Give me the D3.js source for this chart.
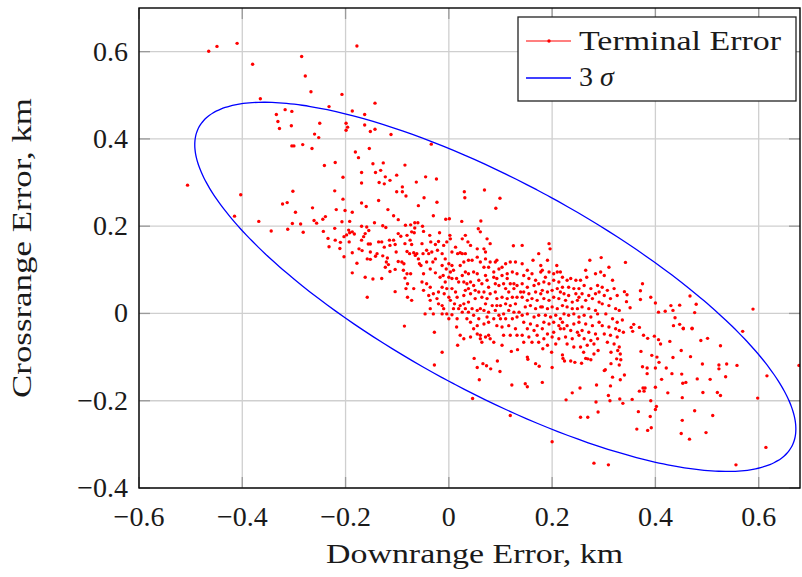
<!DOCTYPE html>
<html>
<head>
<meta charset="utf-8">
<script src="https://d3js.org/d3.v7.min.js"></script>
<style>
  body { margin: 0; background: #fff; }
  text { font-family: "Liberation Serif", "Times New Roman", serif; fill: #1a1a1a; }
</style>
</head>
<body>
<script>
// tick values and their labels
var xTicks = [-0.6, -0.4, -0.2, 0, 0.2, 0.4, 0.6];
var xTickLabels = ["\u22120.6", "\u22120.4", "\u22120.2", "0", "0.2", "0.4", "0.6"];
var yTicks = [-0.4, -0.2, 0, 0.2, 0.4, 0.6];
var yTickLabels = ["\u22120.4", "\u22120.2", "0", "0.2", "0.4", "0.6"];

// 3 sigma ellipse: mean, std devs, correlation
var errMean = [0.090, 0.061];
var errSigma = [0.194, 0.141];
var errRho = -0.77;
var nSigma = 3;

// terminal error samples [downrange, crossrange] km
var terminalError = [
// upper left
[-0.465,0.601],[-0.449,0.612],[-0.410,0.619],[-0.380,0.571],[-0.285,0.589],[-0.278,0.544],[-0.267,0.508],
[-0.207,0.502],[-0.365,0.492],[-0.232,0.474],[-0.187,0.464],[-0.178,0.613],[-0.317,0.467],[-0.304,0.463],
[-0.334,0.456],[-0.331,0.440],[-0.328,0.424],[-0.305,0.430],[-0.250,0.436],[-0.199,0.436],[-0.196,0.427],
[-0.199,0.420],[-0.260,0.411],[-0.252,0.403],[-0.304,0.384],[-0.300,0.384],[-0.283,0.387],[-0.265,0.378],
[-0.181,0.370],[-0.220,0.346],[-0.241,0.339],
[-0.143,0.482],[-0.163,0.456],[-0.163,0.432],[-0.152,0.417],[-0.143,0.422],[-0.112,0.410],[-0.034,0.388],
[-0.154,0.378],[-0.175,0.357],[-0.147,0.343],[-0.127,0.345],[-0.085,0.340],
[-0.506,0.294],[-0.403,0.272],[-0.415,0.223],[-0.368,0.211],[-0.344,0.189],[-0.302,0.280],[-0.322,0.251],
[-0.313,0.254],[-0.297,0.232],[-0.303,0.206],[-0.287,0.205],[-0.312,0.193],[-0.282,0.186],[-0.264,0.242],
[-0.261,0.213],[-0.256,0.207],[-0.244,0.216],[-0.239,0.222],[-0.243,0.188],[-0.234,0.172],[-0.232,0.153],
[-0.221,0.281],[-0.205,0.312],[-0.205,0.262],[-0.218,0.238],[-0.201,0.236],[-0.187,0.232],[-0.207,0.210],
[-0.192,0.211],[-0.221,0.195],[-0.220,0.168],[-0.211,0.149],[-0.210,0.163],[-0.203,0.130],[-0.203,0.176],
[-0.198,0.180],[-0.194,0.191],[-0.192,0.185],[-0.187,0.187],[-0.183,0.182],[-0.193,0.164],[-0.187,0.139],
[-0.187,0.093],[-0.178,0.115],
[-0.169,0.323],[-0.142,0.323],[-0.132,0.328],[-0.123,0.313],[-0.114,0.305],[-0.101,0.317],[-0.135,0.300],
[-0.125,0.297],[-0.063,0.301],[-0.045,0.313],[-0.024,0.308],[-0.169,0.299],[-0.101,0.279],[-0.090,0.290],
[-0.090,0.279],[-0.083,0.269],[0.030,0.279],[0.031,0.265],[0.069,0.283],[0.099,0.264],[-0.169,0.253],
[-0.160,0.245],[-0.136,0.259],[-0.059,0.247],[-0.048,0.265],[-0.023,0.255],[-0.118,0.238],[0.091,0.241],
[-0.107,0.224],[-0.098,0.215],[-0.030,0.224],[-0.006,0.216],[0.001,0.217],[0.025,0.211],[0.062,0.212],
[-0.169,0.200],[-0.144,0.208],[-0.159,0.198],[-0.128,0.201],[-0.122,0.197],[-0.155,0.190],[-0.162,0.183],
[-0.084,0.202],[-0.074,0.203],[-0.066,0.208],[-0.060,0.208],[-0.066,0.196],[-0.051,0.200],[0.057,0.194],
[-0.169,0.168],[-0.165,0.176],[-0.156,0.159],[-0.152,0.159],[-0.136,0.164],
[-0.174,0.148],[-0.168,0.144],[-0.152,0.141],[-0.139,0.137],[-0.158,0.125],[-0.152,0.124],[-0.142,0.131],
[-0.162,0.083],[-0.147,0.079],[-0.158,0.037],
// dense core
[-0.130,0.164],[-0.125,0.152],[-0.115,0.168],[-0.107,0.168],[-0.104,0.158],[-0.114,0.156],[-0.119,0.127],
[-0.128,0.132],[-0.121,0.118],[-0.117,0.112],[-0.123,0.106],[-0.114,0.096],[-0.104,0.101],[-0.130,0.080],
[-0.104,0.050],[-0.098,0.183],[-0.102,0.141],[-0.098,0.119],
[-0.093,0.177],[-0.081,0.179],[-0.072,0.187],[-0.067,0.185],[-0.085,0.160],[-0.075,0.168],[-0.072,0.158],
[-0.081,0.142],[-0.076,0.137],[-0.068,0.139],[-0.065,0.133],[-0.091,0.118],[-0.087,0.114],[-0.088,0.099],
[-0.081,0.091],[-0.074,0.091],[-0.085,0.081],[-0.080,0.068],[-0.083,0.057],[-0.068,0.057],[-0.080,0.037],
[-0.072,0.030],[-0.059,0.125],[-0.057,0.114],[-0.062,0.137],[-0.086,-0.029],
[-0.049,0.188],[-0.037,0.179],[-0.035,0.164],[-0.052,0.160],[-0.043,0.145],[-0.050,0.137],[-0.039,0.137],
[-0.033,0.141],[-0.026,0.158],[-0.020,0.165],[-0.031,0.118],[-0.043,0.118],[-0.054,0.110],[-0.036,0.102],
[-0.026,0.093],[-0.049,0.091],[-0.052,0.072],[-0.043,0.068],[-0.036,0.060],[-0.049,0.053],[-0.039,0.041],
[-0.030,0.045],[-0.020,0.049],[-0.036,0.030],[-0.023,0.034],[-0.020,0.022],[-0.046,-0.001],[-0.036,0.011],
[-0.030,-0.001],[-0.018,0.185],[-0.022,0.145],[-0.026,0.125],[-0.013,0.110],[-0.028,-0.043],
[-0.013,0.137],[-0.007,0.125],[-0.010,0.156],[-0.004,0.164],[0.003,0.171],[0.002,0.179],[0.013,0.152],
[0.006,0.141],[0.017,0.137],[0.022,0.139],[0.000,0.114],[0.006,0.110],[0.009,0.099],[0.003,0.095],
[-0.005,0.102],[-0.011,0.087],[0.000,0.083],[0.006,0.080],[0.015,0.080],[0.019,0.072],[-0.007,0.072],
[-0.013,0.060],[-0.004,0.057],[0.006,0.057],[0.013,0.049],[-0.009,0.045],[0.000,0.037],[0.016,0.037],
[0.003,0.030],[0.011,0.022],[0.022,0.018],[-0.010,0.011],[-0.004,-0.001],[0.006,-0.003],[0.016,-0.012],
[0.000,-0.012],[0.009,0.011],[0.019,0.011],[0.015,-0.031],[0.022,-0.050],[0.017,-0.073],[0.022,0.110],
[-0.017,0.083],[-0.013,0.018],[-0.013,-0.001],
[0.026,0.171],[0.037,0.164],[0.042,0.156],[0.032,0.137],[0.026,0.137],[0.038,0.122],[0.045,0.122],
[0.055,0.129],[0.061,0.118],[0.029,0.118],[0.032,0.095],[0.038,0.091],[0.026,0.087],[0.029,0.072],
[0.035,0.068],[0.042,0.072],[0.048,0.095],[0.055,0.091],[0.058,0.076],[0.048,0.064],[0.038,0.057],
[0.032,0.053],[0.029,0.041],[0.042,0.045],[0.051,0.053],[0.058,0.049],[0.051,0.034],[0.038,0.026],
[0.029,0.022],[0.032,0.011],[0.045,0.011],[0.055,0.007],[0.061,0.011],[0.048,-0.004],[0.038,0.003],
[0.026,0.003],[0.035,-0.012],[0.042,-0.020],[0.058,-0.012],[0.048,-0.035],[0.055,-0.028],[0.029,-0.058],
[0.042,-0.054],[0.061,-0.050],[0.055,-0.047],[0.032,0.179],[0.055,0.148],[0.061,0.187],
[0.068,0.148],[0.071,0.141],[0.080,0.160],[0.071,0.125],[0.080,0.118],[0.090,0.118],[0.068,0.106],
[0.077,0.106],[0.087,0.095],[0.097,0.102],[0.071,0.087],[0.074,0.076],[0.087,0.083],[0.093,0.080],
[0.064,0.068],[0.077,0.060],[0.090,0.068],[0.097,0.064],[0.068,0.049],[0.080,0.045],[0.090,0.049],
[0.064,0.037],[0.074,0.034],[0.093,0.034],[0.071,0.022],[0.084,0.018],[0.093,0.018],[0.068,0.007],
[0.077,0.003],[0.090,0.007],[0.097,-0.004],[0.074,-0.008],[0.087,-0.012],[0.068,-0.024],[0.093,-0.028],
[0.077,-0.020],[0.061,-0.058],[0.071,-0.054],[0.077,-0.050],[0.080,-0.058],[0.087,-0.066],[0.064,-0.066],
[0.093,0.122],[0.074,0.171],
[0.103,0.106],[0.110,0.114],[0.119,0.118],[0.129,0.118],[0.123,0.095],[0.132,0.091],[0.113,0.091],
[0.103,0.087],[0.106,0.068],[0.119,0.068],[0.126,0.068],[0.132,0.064],[0.110,0.057],[0.116,0.049],
[0.126,0.057],[0.103,0.037],[0.113,0.034],[0.123,0.037],[0.132,0.037],[0.139,0.049],[0.110,0.022],
[0.119,0.018],[0.129,0.022],[0.116,0.007],[0.126,0.003],[0.136,0.003],[0.106,-0.001],[0.100,-0.012],
[0.110,-0.012],[0.123,-0.012],[0.132,-0.008],[0.103,-0.031],[0.116,-0.028],[0.129,-0.035],[0.106,-0.050],
[0.119,-0.050],[0.132,-0.050],[0.103,-0.073],[0.125,0.155],[0.142,0.156],[0.113,0.080],[0.100,0.018],
[0.142,0.114],[0.152,0.099],[0.161,0.091],[0.145,0.087],[0.155,0.080],[0.168,0.076],[0.142,0.068],
[0.152,0.060],[0.165,0.064],[0.174,0.068],[0.145,0.049],[0.155,0.045],[0.168,0.049],[0.178,0.045],
[0.142,0.037],[0.152,0.030],[0.161,0.034],[0.171,0.030],[0.148,0.015],[0.158,0.018],[0.168,0.011],
[0.178,0.015],[0.142,-0.004],[0.152,-0.001],[0.165,-0.008],[0.174,-0.004],[0.145,-0.020],[0.158,-0.024],
[0.171,-0.028],[0.152,-0.035],[0.165,-0.039],[0.142,-0.050],[0.155,-0.054],[0.171,-0.050],[0.145,-0.066],
[0.161,-0.066],[0.174,-0.066],[0.163,0.122],[0.174,0.137],[0.178,0.110],[0.178,0.095],
[0.181,0.099],[0.187,0.083],[0.194,0.095],[0.203,0.091],[0.210,0.095],[0.216,0.095],[0.184,0.072],
[0.194,0.068],[0.203,0.076],[0.213,0.072],[0.181,0.053],[0.191,0.049],[0.200,0.053],[0.210,0.057],
[0.216,0.049],[0.184,0.034],[0.194,0.030],[0.203,0.037],[0.213,0.034],[0.181,0.015],[0.191,0.011],
[0.200,0.015],[0.210,0.011],[0.187,-0.004],[0.197,-0.008],[0.207,-0.004],[0.216,-0.012],[0.184,-0.020],
[0.194,-0.024],[0.203,-0.020],[0.213,-0.028],[0.181,-0.035],[0.191,-0.047],[0.203,-0.043],[0.216,-0.035],
[0.184,-0.058],[0.200,-0.054],[0.213,-0.058],[0.191,-0.073],[0.207,-0.070],[0.194,0.160],[0.196,0.148],
[0.191,0.122],[0.209,0.110],[0.220,0.083],
[0.220,0.060],[0.229,0.076],[0.236,0.080],[0.246,0.076],[0.255,0.076],[0.232,0.060],[0.242,0.057],
[0.252,0.057],[0.223,0.045],[0.232,0.041],[0.246,0.045],[0.252,0.037],[0.226,0.030],[0.239,0.026],
[0.249,0.030],[0.220,0.018],[0.229,0.015],[0.239,0.011],[0.249,0.011],[0.223,-0.001],[0.232,-0.004],
[0.242,-0.001],[0.252,-0.008],[0.220,-0.020],[0.229,-0.028],[0.242,-0.024],[0.252,-0.020],[0.223,-0.035],
[0.236,-0.039],[0.249,-0.043],[0.226,-0.054],[0.239,-0.058],[0.252,-0.050],[0.229,-0.070],[0.242,-0.077],
[0.255,-0.077],
[0.265,0.099],[0.273,0.122],[0.267,0.083],[0.284,0.091],[0.262,0.064],[0.275,0.057],[0.288,0.064],
[0.258,0.045],[0.271,0.041],[0.284,0.045],[0.265,0.030],[0.278,0.034],[0.291,0.026],[0.258,0.015],
[0.271,0.011],[0.284,0.007],[0.262,-0.004],[0.275,-0.008],[0.288,-0.001],[0.265,-0.024],[0.278,-0.028],
[0.291,-0.020],[0.258,-0.039],[0.271,-0.043],[0.284,-0.047],[0.262,-0.058],[0.275,-0.062],[0.288,-0.058],
[0.268,-0.073],[0.281,-0.070],[0.295,0.128],[0.291,0.049],[0.294,0.095],
[0.310,0.106],[0.301,0.087],[0.317,0.076],[0.297,0.060],[0.307,0.053],[0.320,0.057],[0.301,0.041],
[0.313,0.034],[0.326,0.041],[0.297,0.022],[0.310,0.018],[0.323,0.011],[0.330,0.007],[0.304,-0.001],
[0.317,-0.012],[0.326,-0.020],[0.297,-0.028],[0.310,-0.031],[0.323,-0.035],[0.330,-0.039],[0.301,-0.047],
[0.313,-0.050],[0.326,-0.054],[0.307,-0.066],[0.320,-0.070],[0.330,-0.077],
// right of core
[0.342,0.117],[0.340,0.050],[0.345,0.043],[0.344,0.027],[0.351,0.013],[0.336,-0.015],[0.353,-0.032],
[0.358,-0.025],[0.369,-0.032],[0.375,0.068],[0.371,0.052],[0.371,0.032],[0.391,0.037],[0.400,0.024],
[0.406,0.003],[0.419,0.005],[0.430,0.018],[0.434,0.007],[0.447,0.019],[0.438,-0.010],[0.435,-0.028],
[0.447,-0.025],[0.454,-0.034],[0.467,0.040],[0.479,0.021],[0.476,0.002],[0.471,-0.034],[0.589,0.010],
// below core
[-0.013,-0.089],[-0.028,-0.118],[0.182,-0.081],[0.199,-0.089],[0.220,-0.095],[0.221,-0.103],[0.224,-0.109],
[0.236,-0.109],[0.244,-0.112],[0.121,-0.087],[0.133,-0.083],[0.152,-0.100],[0.153,-0.105],[0.168,-0.115],
[0.175,-0.121],[0.200,-0.124],[0.049,-0.103],[0.066,-0.115],[0.073,-0.120],[0.055,-0.124],[0.081,-0.127],
[0.094,-0.109],[0.099,-0.133],[0.059,-0.152],[0.122,-0.164],[0.148,-0.161],[0.152,-0.168],[0.181,-0.158],
[0.239,-0.182],[0.227,-0.198],[0.046,-0.195],[0.119,-0.234],[0.200,-0.294],
// lower right
[0.338,-0.043],[0.356,-0.041],[0.377,-0.050],[0.385,-0.057],[0.398,-0.052],[0.406,-0.060],
[0.410,-0.070],[0.428,-0.064],[0.454,-0.035],[0.471,-0.035],[0.488,-0.062],[0.501,-0.057],[0.526,-0.074],
[0.569,-0.041],[0.261,-0.089],[0.281,-0.093],[0.289,-0.085],[0.265,-0.103],[0.275,-0.106],[0.257,-0.114],
[0.269,-0.104],[0.314,-0.089],[0.327,-0.085],[0.332,-0.093],[0.325,-0.104],[0.333,-0.106],[0.314,-0.115],
[0.330,-0.118],[0.372,-0.087],[0.393,-0.096],[0.403,-0.100],[0.407,-0.112],[0.375,-0.122],[0.384,-0.125],
[0.400,-0.125],[0.421,-0.125],[0.434,-0.101],[0.450,-0.085],[0.468,-0.099],[0.491,-0.116],[0.523,-0.118],
[0.523,-0.127],[0.538,-0.116],[0.558,-0.119],[0.678,-0.119],[0.301,-0.131],[0.303,-0.129],[0.340,-0.141],
[0.317,-0.146],[0.332,-0.152],[0.313,-0.166],[0.286,-0.164],[0.254,-0.171],[0.384,-0.138],[0.412,-0.151],
[0.432,-0.138],[0.451,-0.139],[0.481,-0.150],[0.506,-0.151],[0.536,-0.145],[0.616,-0.143],[0.453,-0.160],
[0.459,-0.158],[0.400,-0.169],[0.369,-0.178],[0.376,-0.171],[0.380,-0.171],[0.378,-0.178],[0.424,-0.182],
[0.492,-0.181],[0.520,-0.181],[0.526,-0.188],[0.452,-0.193],[0.355,-0.197],[0.331,-0.196],[0.309,-0.188],
[0.312,-0.200],[0.337,-0.206],[0.285,-0.203],[0.391,-0.200],[0.402,-0.213],[0.400,-0.220],[0.367,-0.225],
[0.289,-0.226],[0.255,-0.238],[0.269,-0.238],[0.390,-0.236],[0.452,-0.245],[0.476,-0.223],[0.511,-0.234],
[0.598,-0.194],[0.364,-0.265],[0.385,-0.268],[0.392,-0.262],[0.450,-0.275],[0.466,-0.288],[0.498,-0.273],
[0.614,-0.307],[0.281,-0.343],[0.309,-0.347],[0.556,-0.347]
];

var W = 802, H = 577;
var margin = {left: 139, right: 2, top: 8, bottom: 90};

var svg = d3.select("body").append("svg")
    .attr("width", W).attr("height", H);

var x = d3.scaleLinear().domain([-0.6, 0.68]).range([margin.left, W - margin.right]);
var y = d3.scaleLinear().domain([-0.4, 0.7]).range([H - margin.bottom + 1, margin.top]);

var x0 = x.range()[0], x1 = x.range()[1], y0 = y.range()[0], y1 = y.range()[1];

// grid
var grid = svg.append("g");
grid.selectAll(".gx").data(xTicks).enter().append("line")
    .attr("x1", d => x(d)).attr("x2", d => x(d))
    .attr("y1", y0).attr("y2", y1)
    .attr("stroke", "#cfcfcf").attr("stroke-width", 1.3);
grid.selectAll(".gy").data(yTicks).enter().append("line")
    .attr("y1", d => y(d)).attr("y2", d => y(d))
    .attr("x1", x0).attr("x2", x1)
    .attr("stroke", "#cfcfcf").attr("stroke-width", 1.3);

// inner ticks on all four sides
var tl = 11;
var ticks = svg.append("g").attr("stroke", "#9a9a9a").attr("stroke-width", 1.3);
xTicks.forEach(function(d) {
  ticks.append("line").attr("x1", x(d)).attr("x2", x(d)).attr("y1", y0).attr("y2", y0 - tl);
  ticks.append("line").attr("x1", x(d)).attr("x2", x(d)).attr("y1", y1).attr("y2", y1 + tl);
});
yTicks.forEach(function(d) {
  ticks.append("line").attr("y1", y(d)).attr("y2", y(d)).attr("x1", x0).attr("x2", x0 + tl);
  ticks.append("line").attr("y1", y(d)).attr("y2", y(d)).attr("x1", x1).attr("x2", x1 - tl);
});

// clip for data
svg.append("clipPath").attr("id", "plotclip").append("rect")
    .attr("x", x0).attr("y", y1).attr("width", x1 - x0).attr("height", y0 - y1);
var plot = svg.append("g").attr("clip-path", "url(#plotclip)");

// scatter
plot.selectAll("circle").data(terminalError).enter().append("circle")
    .attr("cx", d => x(d[0])).attr("cy", d => y(d[1]))
    .attr("r", 1.7).attr("fill", "#ff0000");

// 3 sigma ellipse
var ell = d3.range(0, 361, 2).map(function(a) {
  var t = a * Math.PI / 180;
  var dx = nSigma * errSigma[0] * Math.cos(t);
  var dy = nSigma * errSigma[1] * (errRho * Math.cos(t) + Math.sqrt(1 - errRho * errRho) * Math.sin(t));
  return [errMean[0] + dx, errMean[1] + dy];
});
plot.append("path")
    .attr("d", d3.line().x(d => x(d[0])).y(d => y(d[1])).curve(d3.curveCardinalClosed)(ell))
    .attr("fill", "none").attr("stroke", "#0000ff").attr("stroke-width", 1.3);

// frame
svg.append("rect").attr("x", x0).attr("y", y1).attr("width", x1 - x0).attr("height", y0 - y1)
    .attr("fill", "none").attr("stroke", "#000").attr("stroke-width", 1.4);

// tick labels
var fs = 28;
svg.selectAll(".xl").data(xTicks).enter().append("text")
    .attr("x", d => x(d)).attr("y", y0 + 38)
    .attr("text-anchor", "middle").attr("font-size", fs)
    .text((d, i) => xTickLabels[i]);
svg.selectAll(".yl").data(yTicks).enter().append("text")
    .attr("x", x0 - 11).attr("y", d => y(d) + 9)
    .attr("text-anchor", "end").attr("font-size", fs)
    .text((d, i) => yTickLabels[i]);

// axis titles
svg.append("text").attr("x", (x0 + x1) / 2 + 5).attr("y", 563)
    .attr("text-anchor", "middle").attr("font-size", fs)
    .attr("textLength", 297).attr("lengthAdjust", "spacingAndGlyphs")
    .text("Downrange Error, km");
svg.append("text")
    .attr("transform", "translate(31," + ((y0 + y1) / 2) + ") rotate(-90)")
    .attr("text-anchor", "middle").attr("font-size", fs)
    .attr("textLength", 300).attr("lengthAdjust", "spacingAndGlyphs")
    .text("Crossrange Error, km");

// legend
var lg = svg.append("g");
lg.append("rect").attr("x", 518).attr("y", 17).attr("width", 278).attr("height", 84)
    .attr("fill", "#fff").attr("stroke", "#222").attr("stroke-width", 1.3);
lg.append("line").attr("x1", 526).attr("x2", 571).attr("y1", 41).attr("y2", 41)
    .attr("stroke", "#ff0000").attr("stroke-width", 1.2);
lg.append("circle").attr("cx", 549).attr("cy", 41).attr("r", 1.7).attr("fill", "#ff0000");
lg.append("line").attr("x1", 526).attr("x2", 571).attr("y1", 78).attr("y2", 78)
    .attr("stroke", "#0000ff").attr("stroke-width", 1.3);
lg.append("text").attr("x", 579).attr("y", 50).attr("font-size", fs)
    .attr("textLength", 202).attr("lengthAdjust", "spacingAndGlyphs")
    .text("Terminal Error");
var t3 = lg.append("text").attr("x", 579).attr("y", 86).attr("font-size", fs);
t3.append("tspan").text("3 ");
t3.append("tspan").attr("font-style", "italic").text("\u03c3");
</script>
</body>
</html>
